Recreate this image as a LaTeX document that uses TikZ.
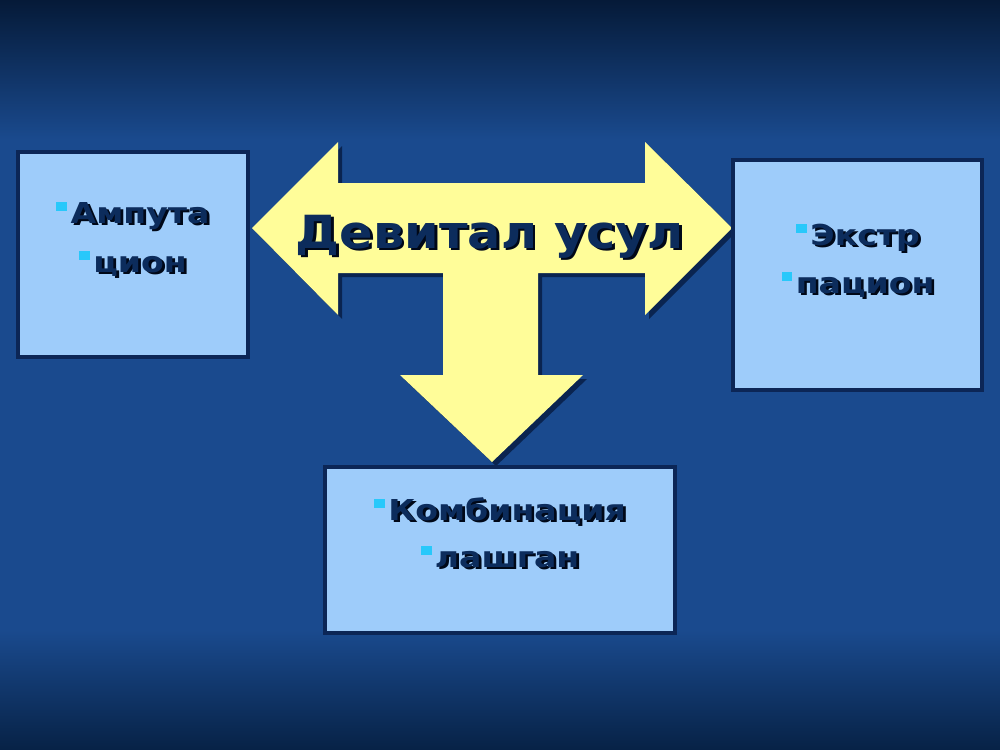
\documentclass[tikz,border=0pt]{standalone}
\usepackage{fontspec}
\setmainfont{DejaVu Sans}
\usepackage{xcolor}
\usepackage{tikz}
\usetikzlibrary{positioning}
\definecolor{bgtop}{RGB}{5,26,56}
\definecolor{bgmid}{RGB}{26,74,142}
\definecolor{bgbot}{RGB}{7,34,70}
\definecolor{boxfill}{RGB}{158,204,250}
\definecolor{boxborder}{RGB}{12,38,86}
\definecolor{arrowfill}{RGB}{255,253,153}
\definecolor{arrowshade}{RGB}{10,36,80}
\definecolor{textcolor}{RGB}{12,44,92}
\definecolor{shadowcolor}{RGB}{0,8,24}
\definecolor{bulletcolor}{RGB}{40,200,250}
\newcommand{\shadowtext}[1]{\rlap{\kern1.3pt\raisebox{-1.3pt}{\color{shadowcolor}#1}}#1}
\newcommand{\itembullet}{\textcolor{bulletcolor}{\rule[0.40em]{0.33em}{0.33em}}\kern0.1em}
\newcommand{\wide}[2]{\scalebox{#1}[1]{#2}}
\newcommand{\teepath}{(252,228) -- (338,142) -- (338,183) -- (645,183) -- (645,142)
    -- (732,228) -- (645,315) -- (645,273) -- (538,273) -- (538,375) -- (583,375)
    -- (492,462) -- (400,375) -- (443,375) -- (443,273) -- (338,273) -- (338,315) -- cycle}
\tikzstyle{panel} = [rectangle, draw=boxborder, line width=2.2pt, fill=boxfill, inner sep=0pt]
\tikzstyle{itemline} = [anchor=base, inner sep=0pt, text=textcolor,
                        font=\bfseries\fontsize{16.4}{20}\selectfont]
\tikzstyle{titletext} = [anchor=base, inner sep=0pt, text=textcolor,
                         font=\bfseries\fontsize{26}{30}\selectfont]

\begin{document}
\begin{tikzpicture}[x=0.02cm, y=-0.02cm]
    \useasboundingbox (0,0) rectangle (1000,750);
    % background
    \shade[top color=bgtop, bottom color=bgmid] (0,0) rectangle (1000,140);
    \fill[bgmid] (0,140) rectangle (1000,630);
    \shade[top color=bgmid, bottom color=bgbot] (0,630) rectangle (1000,750);

    % T-shaped arrow
    \fill[arrowshade, shift={(4,4)}] \teepath;
    \fill[arrowfill] \teepath;
    \node[titletext] (title) at (490,248) {\wide{1.08}{\shadowtext{Девитал усул}}};

    % boxes
    \node[panel, minimum width=4.6cm, minimum height=4.1cm] (amp) at (133,254.5) {};
    \node[panel, minimum width=4.98cm, minimum height=4.6cm] (ext) at (857.5,275) {};
    \node[panel, minimum width=7cm, minimum height=3.32cm] (comb) at (500,550) {};

    \node[itemline] (amp1) at (133,223) {\wide{1.15}{\itembullet\shadowtext{Ампута}}};
    \node[itemline] (amp2) at (133,272) {\wide{1.15}{\itembullet\shadowtext{цион}}};
    \node[itemline] (ext1) at (858,245) {\wide{1.15}{\itembullet\shadowtext{Экстр}}};
    \node[itemline] (ext2) at (858,293) {\wide{1.15}{\itembullet\shadowtext{пацион}}};
    \node[itemline] (comb1) at (500,520) {\wide{1.15}{\itembullet\shadowtext{Комбинация}}};
    \node[itemline] (comb2) at (500,567) {\wide{1.15}{\itembullet\shadowtext{лашган}}};
\end{tikzpicture}
\end{document}
